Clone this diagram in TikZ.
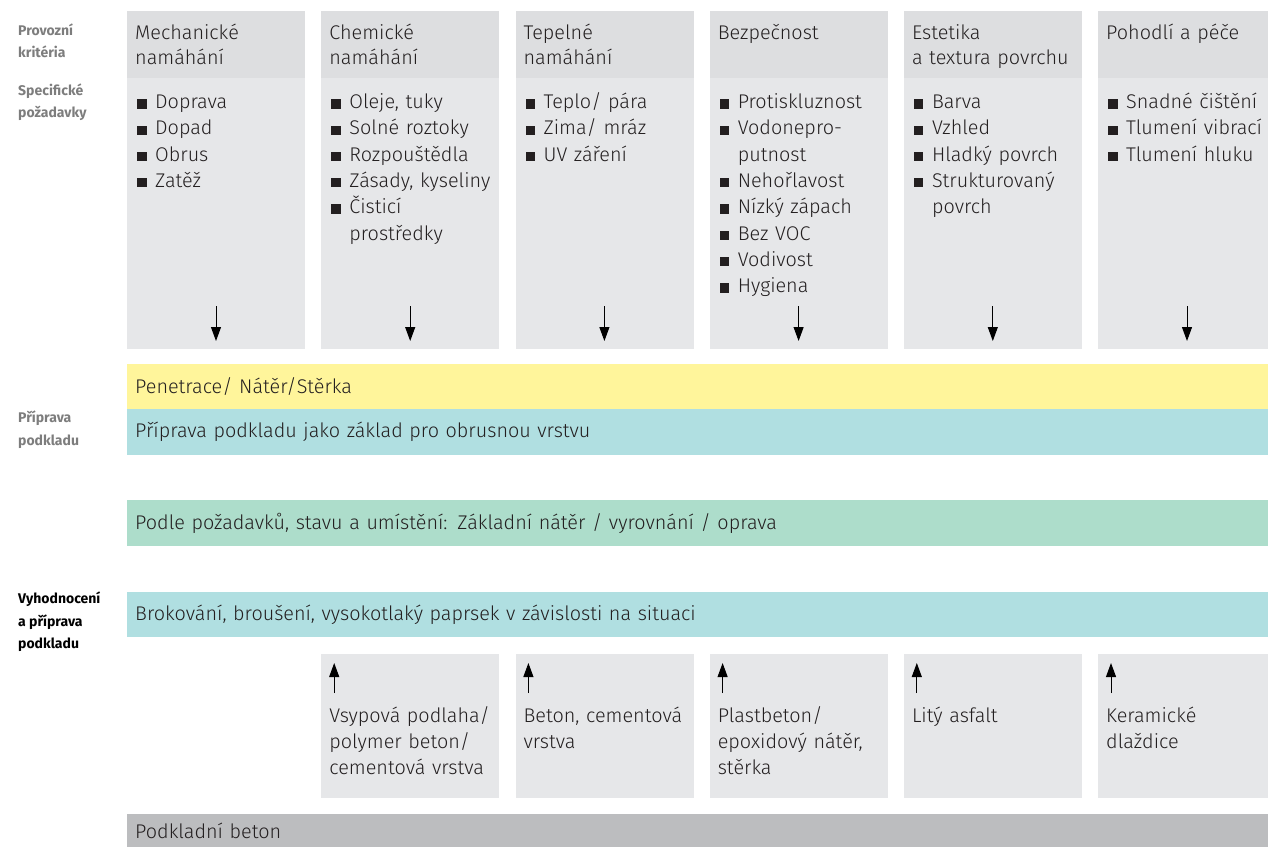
\documentclass[tikz,border=0pt]{standalone}
\usepackage{fontspec}
\IfFontExistsTF{Fira Sans Light}{\setmainfont{Fira Sans Light}
    \newfontfamily\barfamily{Fira Sans Light}[WordSpace=1.6]}{\setmainfont{Fira Sans}
    \newfontfamily\barfamily{Fira Sans}[WordSpace=1.6]}
\newfontfamily\sidefont{Fira Sans}
\usetikzlibrary{arrows.meta, positioning}

\definecolor{hdrgray}{RGB}{221,222,224}
\definecolor{bodygray}{RGB}{230,231,233}
\definecolor{penyellow}{RGB}{255,245,155}
\definecolor{prepcyan}{RGB}{176,223,225}
\definecolor{levgreen}{RGB}{173,221,203}
\definecolor{basegray}{RGB}{188,189,191}
\definecolor{sidegray}{RGB}{125,125,125}
\definecolor{txtblack}{RGB}{35,31,32}

% list item with square bullet, and its continuation line
\newcommand{\bul}{\par\noindent\makebox[18pt][l]{\strut\rule{9.3pt}{9.3pt}}\ignorespaces}
\newcommand{\cont}{\par\noindent\hskip18pt\strut\ignorespaces}

\begin{document}
\begin{tikzpicture}[x=1pt, y=-1pt,
    colhead/.style={fill=hdrgray, anchor=north west, inner sep=0pt, minimum height=67pt},
    colbody/.style={fill=bodygray, anchor=north west, inner sep=0pt, minimum height=271pt},
    basebox/.style={fill=bodygray, anchor=north west, inner sep=0pt, minimum height=144pt},
    bar/.style={anchor=north west, inner xsep=8pt, inner ysep=0pt, minimum width=1141pt,
        text width=1125pt, align=left, text=txtblack,
        font=\barfamily\fontsize{19.8}{26.3}\selectfont},
    hdrtxt/.style={anchor=north west, inner sep=0pt, text width=170pt, align=left,
        font=\fontsize{19.8}{25}\selectfont, text=txtblack},
    listtxt/.style={anchor=north west, inner sep=0pt, text width=178pt, align=left,
        font=\fontsize{19.8}{26.3}\selectfont, text=txtblack},
    sidelbl/.style={anchor=north west, inner sep=0pt, align=left,
        font=\sidefont\bfseries\fontsize{14}{22.5}\selectfont, text=sidegray},
    arr/.style={-{Triangle[width=10pt,length=14pt]}, line width=1pt, draw=black}]

    \useasboundingbox (0,0) rectangle (1268,847);

    % Side labels
    \node[sidelbl] (lkrit) at (18,19.3) {\strut Provozní\\kritéria};
    \node[sidelbl] (lspec) at (18,79.3) {\strut Specifické\\požadavky};
    \node[sidelbl] (lprep) at (18,407) {\strut Příprava\\podkladu};
    \node[sidelbl, text=black] (leval) at (18,588) {\strut Vyhodnocení\\a příprava\\podkladu};

    % Columns of criteria with arrows down
    \foreach \i in {1,...,6} {
        \pgfmathsetmacro{\cx}{127+194.2*(\i-1)}
        \pgfmathsetmacro{\cw}{min(178,1268-\cx)}
        \node[colhead, minimum width=\cw pt] (h\i) at (\cx,11) {};
        \node[colbody, minimum width=\cw pt] (c\i) at (\cx,78) {};
        \coordinate (d\i a) at (\cx+89,306);
        \coordinate (d\i b) at (\cx+89,341);
        \draw[arr] (d\i a) -- (d\i b);
    }

    % Column headings
    \node[hdrtxt] (h1t) at ([xshift=8pt,yshift=-10.5pt]h1.north west) {\strut Mechanické\\namáhání};
    \node[hdrtxt] (h2t) at ([xshift=8pt,yshift=-10.5pt]h2.north west) {\strut Chemické\\namáhání};
    \node[hdrtxt] (h3t) at ([xshift=8pt,yshift=-10.5pt]h3.north west) {\strut Tepelné\\namáhání};
    \node[hdrtxt] (h4t) at ([xshift=8pt,yshift=-10.5pt]h4.north west) {\strut Bezpečnost};
    \node[hdrtxt] (h5t) at ([xshift=8pt,yshift=-10.5pt]h5.north west) {\strut Estetika\\a textura povrchu};
    \node[hdrtxt] (h6t) at ([xshift=8pt,yshift=-10.5pt]h6.north west) {\strut Pohodlí a péče};

    % Specific requirements
    \node[listtxt] (c1t) at ([xshift=10pt,yshift=-4pt]c1.north west)
        {\bul Doprava \bul Dopad \bul Obrus \bul Zatěž};
    \node[listtxt] (c2t) at ([xshift=10pt,yshift=-4pt]c2.north west)
        {\bul Oleje, tuky \bul Solné roztoky \bul Rozpouštědla \bul Zásady, kyseliny
         \bul Čisticí \cont prostředky};
    \node[listtxt] (c3t) at ([xshift=10pt,yshift=-4pt]c3.north west)
        {\bul Teplo/ pára \bul Zima/ mráz \bul UV záření};
    \node[listtxt] (c4t) at ([xshift=10pt,yshift=-4pt]c4.north west)
        {\bul Protiskluznost \bul Vodonepro- \cont putnost \bul Nehořlavost
         \bul Nízký zápach \bul Bez VOC \bul Vodivost \bul Hygiena};
    \node[listtxt] (c5t) at ([xshift=10pt,yshift=-4pt]c5.north west)
        {\bul Barva \bul Vzhled \bul Hladký povrch \bul Strukturovaný \cont povrch};
    \node[listtxt] (c6t) at ([xshift=10pt,yshift=-4pt]c6.north west)
        {\bul Snadné čištění \bul Tlumení vibrací \bul Tlumení hluku};

    % Layers
    \node[bar, fill=penyellow, minimum height=45pt] (pen) at (127,364) {Penetrace/ Nátěr/Stěrka};
    \node[bar, fill=prepcyan, minimum height=46pt] (prep) at (127,409)
        {Příprava podkladu jako základ pro obrusnou vrstvu};
    \node[bar, fill=levgreen, minimum height=46pt] (lev) at (127,500)
        {Podle požadavků, stavu a umístění: Základní nátěr / vyrovnání / oprava};
    \node[bar, fill=prepcyan, minimum height=45pt] (blast) at (127,592)
        {Brokování, broušení, vysokotlaký paprsek v závislosti na situaci};
    \node[bar, fill=basegray, minimum height=33pt] (slab) at (127,814) {Podkladní beton};

    % Existing substrates with arrows up
    \foreach \i in {2,...,6} {
        \pgfmathsetmacro{\cx}{127+194.2*(\i-1)}
        \pgfmathsetmacro{\cw}{min(178,1268-\cx)}
        \node[basebox, minimum width=\cw pt] (b\i) at (\cx,654) {};
        \coordinate (u\i a) at (\cx+13,693);
        \coordinate (u\i b) at (\cx+13,663);
        \draw[arr] (u\i a) -- (u\i b);
    }
    \node[listtxt] (b2t) at ([xshift=8pt,yshift=-49.6pt]b2.north west)
        {\strut Vsypová podlaha/\\polymer beton/\\cementová vrstva};
    \node[listtxt] (b3t) at ([xshift=8pt,yshift=-49.6pt]b3.north west) {\strut Beton, cementová\\vrstva};
    \node[listtxt] (b4t) at ([xshift=8pt,yshift=-49.6pt]b4.north west)
        {\strut Plastbeton/\\epoxidový nátěr,\\stěrka};
    \node[listtxt] (b5t) at ([xshift=8pt,yshift=-49.6pt]b5.north west) {\strut Litý asfalt};
    \node[listtxt] (b6t) at ([xshift=8pt,yshift=-49.6pt]b6.north west) {\strut Keramické\\dlaždice};
\end{tikzpicture}
\end{document}
